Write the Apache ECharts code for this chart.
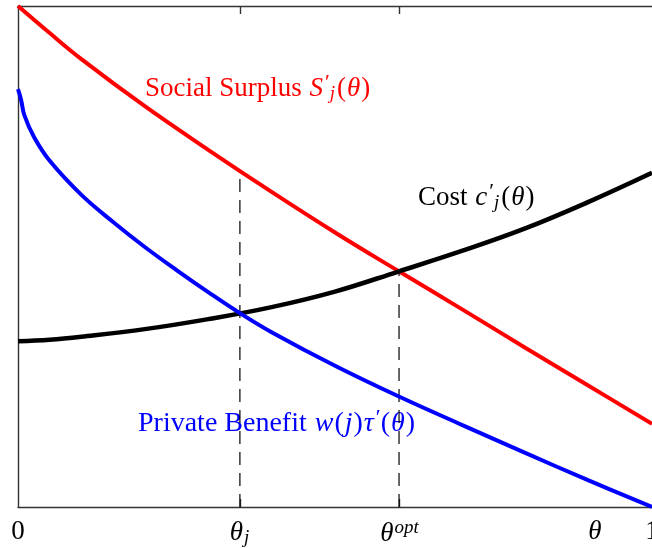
<!DOCTYPE html>
<html><head><meta charset="utf-8">
<script src="https://cdn.jsdelivr.net/npm/echarts@6/dist/echarts.min.js"></script>
<style>html,body{margin:0;padding:0;background:#fff}#c{width:652px;height:548px}</style>
</head><body><div id="c"></div>
<script>
// ---- data (x: theta in [0,1], y: relative value in [0,1]) ----
const lineTheta = [0, 0.05, 0.1, 0.2, 0.3, 0.4, 0.5, 0.6, 0.7, 0.8, 0.9, 1];
const socialSurplus = [1.000, 0.946, 0.894, 0.800, 0.713, 0.629, 0.548, 0.471, 0.395, 0.318, 0.242, 0.166];
const costValues = [0.331, 0.334, 0.340, 0.355, 0.375, 0.399, 0.430, 0.470, 0.511, 0.556, 0.609, 0.667];
const benefitTheta = [0, 0.005, 0.01, 0.025, 0.05, 0.1, 0.15, 0.2, 0.25, 0.3, 0.35, 0.4, 0.5, 0.6, 0.7, 0.8, 0.9, 1];
const benefitValues = [0.834, 0.812, 0.782, 0.739, 0.691, 0.623, 0.569, 0.519, 0.473, 0.429, 0.387, 0.349, 0.282, 0.221, 0.164, 0.108, 0.053, 0];
const thetaJ = 0.350, thetaOpt = 0.601;
const surplusAtThetaJ = 0.670, crossAtThetaOpt = 0.471;
const tickLabelValues = [0, thetaJ, thetaOpt, 0.91, 1];
const tickLabelTexts = ['0', '{it|θ}{sub|j}', '{it|θ}{sup|opt}', '{it|θ}', '1'];

const FONT = 'Liberation Serif';
const zip = (xs, ys) => xs.map((x, i) => [x, ys[i]]);

const chart = echarts.init(document.getElementById('c'));
const axisLineStyle = {color: '#333', width: 1.4};
const mathRich = (size) => ({
  it: {fontFamily: FONT, fontStyle: 'italic', fontSize: size, padding: [0, 1, 0, 1]},
  sub: {fontFamily: FONT, fontStyle: 'italic', fontSize: Math.round(size * 0.72), padding: [10, 2, 0, 0]},
  sup: {fontFamily: FONT, fontStyle: 'italic', fontSize: Math.round(size * 0.72), padding: [0, 0, 12, 0]},
  pr: {fontFamily: FONT, fontSize: Math.round(size * 0.8), padding: [0, 0, 12, 1]}
});

function annot(x, y, text, color, size) {
  const r = mathRich(size);
  Object.keys(r).forEach(k => r[k].fill = color);
  return {
    type: 'text', x: x, y: y, silent: true,
    style: {text: text, fill: color, fontFamily: FONT, fontSize: size, verticalAlign: 'middle', align: 'left', rich: r}
  };
}

chart.setOption({
  animation: false,
  backgroundColor: '#fff',
  grid: {left: 18, right: 0, top: 6, bottom: 41, containLabel: false, outerBoundsMode: 'none'},
  xAxis: [{
    type: 'value', min: 0, max: 1, position: 'bottom',
    axisLine: {show: true, lineStyle: axisLineStyle},
    splitLine: {show: false},
    axisTick: {show: true, inside: true, length: 8, customValues: [thetaJ, thetaOpt], lineStyle: axisLineStyle},
    axisLabel: {
      show: true, margin: 11, customValues: tickLabelValues,
      fontFamily: FONT, fontSize: 27, color: '#000',
      formatter: function (v) {
        let best = 0;
        tickLabelValues.forEach((t, i) => { if (Math.abs(t - v) < Math.abs(tickLabelValues[best] - v)) best = i; });
        return tickLabelTexts[best];
      },
      rich: mathRich(27)
    }
  }, {
    type: 'value', min: 0, max: 1, position: 'top',
    axisLine: {show: true, lineStyle: axisLineStyle},
    splitLine: {show: false},
    axisTick: {show: true, inside: true, length: 8, customValues: [thetaJ, thetaOpt], lineStyle: axisLineStyle},
    axisLabel: {show: false}
  }],
  yAxis: {
    type: 'value', min: 0, max: 1,
    axisLine: {show: true, lineStyle: axisLineStyle},
    axisTick: {show: false}, axisLabel: {show: false}, splitLine: {show: false}
  },
  series: [
    {type: 'line', data: [[thetaJ, 0], [thetaJ, surplusAtThetaJ]], showSymbol: false, z: 1,
     lineStyle: {color: '#000', width: 1.2, type: [13, 8]}},
    {type: 'line', data: [[thetaOpt, 0], [thetaOpt, crossAtThetaOpt]], showSymbol: false, z: 1,
     lineStyle: {color: '#000', width: 1.2, type: [13, 8]}},
    {name: 'Social Surplus', type: 'line', data: zip(lineTheta, socialSurplus), showSymbol: false, clip: false,
     smooth: 0.4, lineStyle: {color: '#ff0000', width: 4}, z: 3},
    {name: 'Cost', type: 'line', data: zip(lineTheta, costValues), showSymbol: false, clip: false,
     smooth: 0.4, lineStyle: {color: '#000', width: 4.5}, z: 3},
    {name: 'Private Benefit', type: 'line', data: zip(benefitTheta, benefitValues), showSymbol: false, clip: false,
     smooth: 0.4, lineStyle: {color: '#0000ff', width: 4}, z: 3}
  ],
  graphic: [
    annot(145, 89, 'Social Surplus {it|S}{pr|′}{sub|j}({it|θ})', '#ff0000', 27),
    annot(418, 198, 'Cost {it|c}{pr|′}{sub|j}({it|θ})', '#000000', 27),
    annot(138, 424, 'Private Benefit {it|w}({it|j}){it|τ}{pr|′}({it|θ})', '#0000ff', 28)
  ]
});
</script>
</body></html>
